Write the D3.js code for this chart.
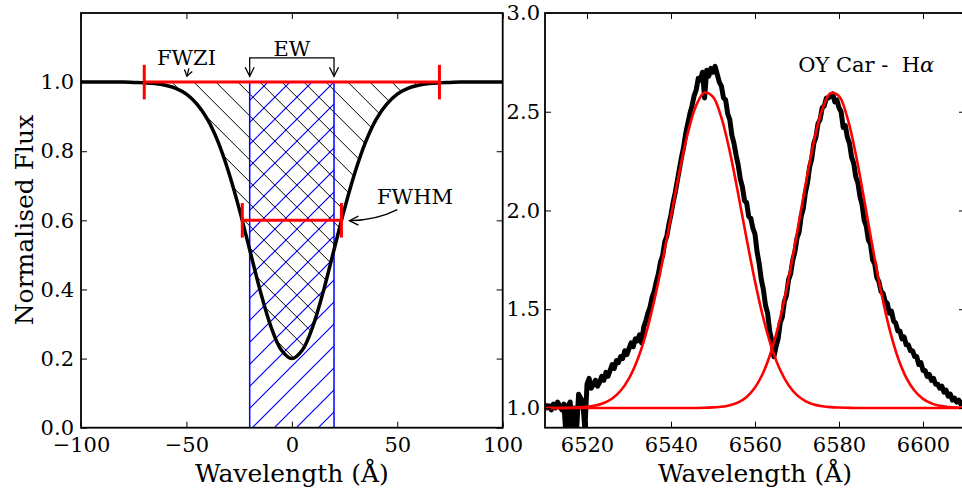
<!DOCTYPE html>
<html>
<head>
<meta charset="utf-8">
<script src="https://cdn.jsdelivr.net/npm/d3@7"></script>
<style>
  body { margin: 0; background: #fff; }
  svg { display: block; }
  svg text { font-family: "DejaVu Serif", serif; fill: #000; }
</style>
</head>
<body>
<svg id="chart" width="962" height="495"></svg>
<script>
"use strict";

// ---- left panel: absorption profile ----
const profWave = [-100,-95,-90,-85,-80,-75,-70,-65,-60,-55,-50,-45,-40,-35,-30,-25,-20,-15,-10,-5,
                  0,5,10,15,20,25,30,35,40,45,50,55,60,65,70,75,80,85,90,95,100];
const profFlux = [1.000,1.000,1.000,1.000,1.000,0.999,0.998,0.996,0.991,0.982,0.965,0.936,0.892,0.827,0.740,0.634,0.515,0.396,0.294,0.225,
                  0.200,0.225,0.294,0.396,0.515,0.634,0.740,0.827,0.892,0.936,0.965,0.982,0.991,0.996,0.998,0.999,1.000,1.000,1.000,1.000,1.000];
const fwziRange = [-70, 70];
const fwhmRange = [-23.5, 23.5];
const ewRange = [-20, 20];
const leftXTicks = [-100, -50, 0, 50, 100];
const leftYTicks = [0, 0.2, 0.4, 0.6, 0.8, 1.0];

// ---- right panel: OY Car H-alpha ----
const specStart = 6510, specStep = 0.5;
const specFlux = [
  1.02,1.00,1.01,0.99,1.02,1.00,1.03,1.01,0.99,1.02,   // 6510
  0.86,1.01,1.03,0.87,1.00,0.88,1.07,1.05,1.03,0.89,   // 6515
  1.12,1.15,1.10,1.12,1.14,1.11,1.13,1.16,1.14,1.18,   // 6520
  1.16,1.19,1.22,1.20,1.24,1.23,1.26,1.25,1.29,1.27,   // 6525
  1.30,1.33,1.31,1.35,1.34,1.37,1.33,1.41,1.44,1.48,   // 6530
  1.51,1.56,1.59,1.64,1.68,1.74,1.77,1.84,1.87,1.93,   // 6535
  1.98,2.04,2.09,2.15,2.21,2.27,2.32,2.39,2.44,2.49,   // 6540
  2.53,2.58,2.61,2.67,2.66,2.70,2.57,2.71,2.68,2.72,   // 6545
  2.70,2.73,2.69,2.65,2.63,2.57,2.56,2.49,2.46,2.38,   // 6550
  2.34,2.28,2.23,2.16,2.12,2.05,2.04,1.97,1.96,1.91,   // 6555
  1.88,1.79,1.73,1.65,1.60,1.52,1.48,1.39,1.34,1.26,   // 6560
  1.31,1.35,1.43,1.46,1.54,1.57,1.65,1.68,1.75,1.79,   // 6565
  1.86,1.89,1.97,2.01,2.09,2.14,2.22,2.26,2.34,2.37,   // 6570
  2.44,2.46,2.52,2.53,2.57,2.57,2.58,2.59,2.55,2.56,   // 6575
  2.52,2.50,2.42,2.43,2.37,2.34,2.27,2.24,2.17,2.14,   // 6580
  2.07,2.03,1.95,1.92,1.85,1.83,1.75,1.73,1.66,1.64,   // 6585
  1.59,1.58,1.54,1.53,1.48,1.49,1.44,1.43,1.39,1.39,   // 6590
  1.35,1.36,1.32,1.32,1.29,1.29,1.26,1.26,1.22,1.23,   // 6595
  1.19,1.19,1.16,1.17,1.14,1.15,1.12,1.12,1.10,1.11,   // 6600
  1.08,1.09,1.06,1.07,1.04,1.05,1.03,1.04,1.02,1.03,   // 6605
  1.02                                                 // 6610
];
const fitWave = [6510,6512,6514,6516,6518,6520,6522,6524,6526,6528,6530,6532,6534,6536,6538,6540,6542,6544,6546,6548,
                 6550,6552,6554,6556,6558,6560,6562,6564,6566,6568,6570,6572,6574,6576,6578,6580,6582,6584,6586,6588,
                 6590,6592,6594,6596,6598,6600,6602,6604,6606,6608,6610];
const fitBlue = [1.000,1.000,1.000,1.001,1.003,1.006,1.012,1.025,1.048,1.087,1.150,1.243,1.373,1.543,1.746,1.970,2.195,2.391,2.532,2.597,
                 2.575,2.470,2.298,2.084,1.857,1.641,1.453,1.303,1.192,1.115,1.065,1.035,1.018,1.009,1.004,1.002,1.001,1.000,1.000,1.000,
                 1.000,1.000,1.000,1.000,1.000,1.000,1.000,1.000,1.000,1.000,1.000];
const fitRed  = [1.000,1.000,1.000,1.000,1.000,1.000,1.000,1.000,1.000,1.000,1.000,1.000,1.000,1.000,1.000,1.000,1.000,1.000,1.000,1.001,
                 1.003,1.006,1.014,1.028,1.056,1.104,1.181,1.296,1.454,1.654,1.886,2.127,2.346,2.511,2.594,2.579,2.469,2.285,2.055,1.814,
                 1.590,1.402,1.257,1.154,1.087,1.046,1.023,1.011,1.005,1.002,1.001];
const rightXTicks = [6520, 6540, 6560, 6580, 6600];
const rightYTicks = [1.0, 1.5, 2.0, 2.5, 3.0];

const svg = d3.select("#chart");
const H = 414.7;
const TICK = 6, FS = 21;

const defs = svg.append("defs");
function arrowMarker(id, len, half) {
  defs.append("marker")
    .attr("id", id)
    .attr("markerUnits", "userSpaceOnUse")
    .attr("viewBox", `${-len - 2} ${-half - 2} ${len + 4} ${2 * half + 4}`)
    .attr("markerWidth", len + 4).attr("markerHeight", 2 * half + 4)
    .attr("refX", 0).attr("refY", 0)
    .attr("orient", "auto")
    .append("path")
      .attr("d", `M${-len},${-half}L0,0L${-len},${half}`)
      .attr("fill", "none").attr("stroke", "#000").attr("stroke-width", 1.3);
}
arrowMarker("arrow", 9, 4.5);
arrowMarker("arrowSmall", 6, 4);

function hatch(id, color, dir, offset, sw) {
  const P = 22;
  const p = defs.append("pattern")
    .attr("id", id)
    .attr("patternUnits", "userSpaceOnUse")
    .attr("x", offset).attr("y", 0)
    .attr("width", P).attr("height", P);
  const d = dir === "/"
    ? `M0,${P}L${P},0M-2,2L2,-2M${P-2},${P+2}L${P+2},${P-2}`
    : `M0,0L${P},${P}M-2,${P-2}L2,${P+2}M${P-2},-2L${P+2},2`;
  p.append("path").attr("d", d).attr("stroke", color).attr("stroke-width", sw).attr("fill", "none");
}
hatch("hatchBlack", "#000", "\\", 21.8, 1);
hatch("hatchBlue", "#0000ff", "/", 14, 1.2);

function frame(g, x, y, xt, yt, fx, fy, padY) {
  const w = x.range()[1];
  const style = sel => {
    sel.select(".domain").remove();
    sel.attr("font-family", null).attr("font-size", FS);
    sel.selectAll(".tick line").attr("stroke", "#000").attr("stroke-width", 1);
    sel.selectAll(".tick text").attr("fill", "#000");
  };
  g.append("g").attr("transform", `translate(0,${H})`)
    .call(d3.axisBottom(x).tickValues(xt).tickSize(-TICK).tickPadding(9.5).tickFormat(fx)).call(style);
  g.append("g")
    .call(d3.axisTop(x).tickValues(xt).tickSize(-TICK).tickFormat("")).call(style);
  g.append("g")
    .call(d3.axisLeft(y).tickValues(yt).tickSize(-TICK).tickPadding(padY).tickFormat(fy)).call(style);
  g.append("g").attr("transform", `translate(${w},0)`)
    .call(d3.axisRight(y).tickValues(yt).tickSize(-TICK).tickFormat("")).call(style);
  g.append("rect").attr("width", w).attr("height", H)
    .attr("fill", "none").attr("stroke", "#000").attr("stroke-width", 1.8);
}

// ================= left panel =================
const gl = svg.append("g").attr("transform", "translate(81,13)");
const xl = d3.scaleLinear().domain([-100, 100]).range([0, 421.7]);
const yl = d3.scaleLinear().domain([0, 1.2]).range([H, 0]);
const prof = profWave.map((w, i) => ({ w, f: profFlux[i] }));

// FWZI hatched area between continuum and profile
const inFwzi = prof.filter(d => d.w >= fwziRange[0] && d.w <= fwziRange[1]);
gl.append("path")
  .datum(inFwzi)
  .attr("d", d3.area().x(d => xl(d.w)).y0(yl(1)).y1(d => yl(d.f)).curve(d3.curveCatmullRom))
  .attr("fill", "url(#hatchBlack)");

// EW box
gl.append("rect")
  .attr("x", xl(ewRange[0])).attr("y", yl(1))
  .attr("width", xl(ewRange[1]) - xl(ewRange[0])).attr("height", yl(0) - yl(1))
  .attr("fill", "url(#hatchBlue)");
ewRange.forEach(v => {
  gl.append("line")
    .attr("x1", xl(v)).attr("x2", xl(v)).attr("y1", yl(0)).attr("y2", yl(1))
    .attr("stroke", "#0000ff").attr("stroke-width", 1.5);
});

// profile
gl.append("path")
  .datum(prof)
  .attr("d", d3.line().x(d => xl(d.w)).y(d => yl(d.f)).curve(d3.curveCatmullRom))
  .attr("fill", "none").attr("stroke", "#000").attr("stroke-width", 3.5);

// FWZI and FWHM bars
function bar(range, level) {
  gl.append("line")
    .attr("x1", xl(range[0])).attr("x2", xl(range[1])).attr("y1", yl(level)).attr("y2", yl(level))
    .attr("stroke", "#ff0000").attr("stroke-width", 3);
  range.forEach(v => {
    gl.append("line")
      .attr("x1", xl(v)).attr("x2", xl(v)).attr("y1", yl(level + 0.05)).attr("y2", yl(level - 0.05))
      .attr("stroke", "#ff0000").attr("stroke-width", 3);
  });
}
bar(fwziRange, 1.0);
bar(fwhmRange, 0.6);

frame(gl, xl, yl, leftXTicks, leftYTicks, d3.format(""), d3.format(".1f"), 7);

// annotations
gl.append("text").attr("x", xl(-50)).attr("y", yl(1.05)).attr("text-anchor", "middle")
  .attr("font-size", FS).text("FWZI");
gl.append("line").attr("x1", xl(-48.8)).attr("y1", yl(1.04)).attr("x2", xl(-49.8)).attr("y2", yl(1.017))
  .attr("stroke", "#000").attr("stroke-width", 1.3).attr("marker-end", "url(#arrowSmall)");

gl.append("text").attr("x", xl(0)).attr("y", yl(1.076)).attr("text-anchor", "middle")
  .attr("font-size", FS).text("EW");
gl.append("path")
  .attr("d", `M${xl(ewRange[0])},${yl(1.04)}V${yl(1.07)}H${xl(ewRange[1])}V${yl(1.04)}`)
  .attr("fill", "none").attr("stroke", "#000").attr("stroke-width", 1.3);
ewRange.forEach(v => {
  gl.append("line").attr("x1", xl(v)).attr("x2", xl(v)).attr("y1", yl(1.04)).attr("y2", yl(1.017))
    .attr("stroke", "#000").attr("stroke-width", 1.3).attr("marker-end", "url(#arrow)");
});

gl.append("text").attr("x", xl(40.4)).attr("y", yl(0.648))
  .attr("font-size", FS).text("FWHM");
gl.append("path")
  .attr("d", `M${xl(50)},${yl(0.631)}Q${xl(40)},${yl(0.6)} ${xl(27.3)},${yl(0.599)}`)
  .attr("fill", "none").attr("stroke", "#000").attr("stroke-width", 1.3)
  .attr("marker-end", "url(#arrow)");

gl.append("text").attr("x", xl(0)).attr("y", 469).attr("text-anchor", "middle")
  .attr("font-size", 25).text("Wavelength (Å)");
svg.append("text").attr("transform", "translate(33,220) rotate(-90)").attr("text-anchor", "middle")
  .attr("font-size", 25).text("Normalised Flux");

// ================= right panel =================
const gr = svg.append("g").attr("transform", "translate(545,13)");
const xr = d3.scaleLinear().domain([6510, 6610]).range([0, 420]);
const yr = d3.scaleLinear().domain([0.9, 3.0]).range([H, 0]);

defs.append("clipPath").attr("id", "clipR")
  .append("rect").attr("width", 420).attr("height", H);
const plot = gr.append("g").attr("clip-path", "url(#clipR)");

const spec = specFlux.map((f, i) => ({ w: specStart + i * specStep, f }));
plot.append("path")
  .datum(spec)
  .attr("d", d3.line().x(d => xr(d.w)).y(d => yr(d.f)))
  .attr("fill", "none").attr("stroke", "#000").attr("stroke-width", 5)
  .attr("stroke-linejoin", "round");

[fitBlue, fitRed].forEach(arr => {
  plot.append("path")
    .datum(fitWave.map((w, i) => ({ w, f: arr[i] })))
    .attr("d", d3.line().x(d => xr(d.w)).y(d => yr(d.f)).curve(d3.curveCatmullRom))
    .attr("fill", "none").attr("stroke", "#ff0000").attr("stroke-width", 2.6);
});

frame(gr, xr, yr, rightXTicks, rightYTicks, d3.format(""), d3.format(".1f"), 5);

const title = gr.append("text").attr("x", xr(6570.3)).attr("y", yr(2.7)).attr("font-size", 21)
  .attr("xml:space", "preserve");
title.append("tspan").text("OY Car -  H");
title.append("tspan").attr("font-style", "italic").text("α");

gr.append("text").attr("x", 210).attr("y", 469).attr("text-anchor", "middle")
  .attr("font-size", 25).text("Wavelength (Å)");
</script>
</body>
</html>
